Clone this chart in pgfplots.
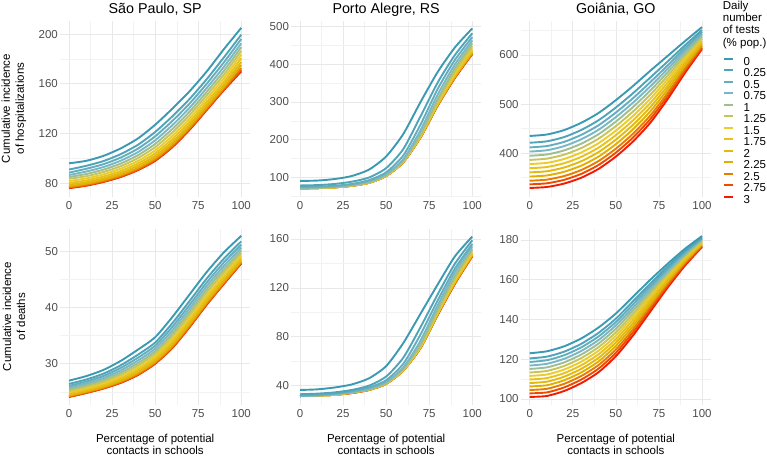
\documentclass[border=0pt]{standalone}
\usepackage{pgfplots}
\pgfplotsset{compat=1.18}
\usepackage{pgfplotstable}
\usepackage{fontspec}
\setmainfont{Liberation Sans}

% Zissou1, 13 steps
\definecolor{col0}{RGB}{59,154,178}
\definecolor{col1}{RGB}{79,164,184}
\definecolor{col2}{RGB}{100,173,191}
\definecolor{col3}{RGB}{120,183,197}
\definecolor{col4}{RGB}{158,190,145}
\definecolor{col5}{RGB}{197,197,94}
\definecolor{col6}{RGB}{235,204,42}
\definecolor{col7}{RGB}{232,194,28}
\definecolor{col8}{RGB}{228,185,14}
\definecolor{col9}{RGB}{225,175,0}
\definecolor{col10}{RGB}{231,125,0}
\definecolor{col11}{RGB}{236,76,0}
\definecolor{col12}{RGB}{242,26,0}
\definecolor{tickgray}{RGB}{77,77,77}

% hospitalizations
\pgfplotstableread[row sep=\\]{
x s0 s1 s2 s3 s4 s5 s6 s7 s8 s9 s10 s11 s12\\
0 96 91 88.5 86.6 85 83.6 81.8 80.2 78.8 77.6 76.8 76.3 76\\
10 98 94 91.6 89.4 87.4 85.6 83.8 82.2 80.8 79.6 78.8 78.3 78\\
20 102 97.8 95.3 93 90.9 89 87.1 85.4 83.9 82.7 81.8 81.3 81\\
30 108 103.4 100.6 98.1 95.8 93.7 91.7 89.8 88.2 86.8 85.9 85.3 85\\
40 116 110.9 107.8 105 102.5 100.2 97.9 95.9 94.1 92.5 91.5 90.9 90.5\\
50 127 121.2 117.7 114.5 111.6 109 106.4 104.1 102.1 100.3 99.2 98.4 98\\
60 140 133.8 130.1 126.7 123.6 120.8 118 115.5 113.3 111.5 110.2 109.5 109\\
70 154 147.8 144.1 140.7 137.6 134.8 132 129.5 127.3 125.5 124.2 123.5 123\\
80 170 163.8 160.1 156.7 153.6 150.8 148 145.5 143.3 141.5 140.2 139.5 139\\
90 188 181.4 177.4 173.8 170.5 167.5 164.6 161.9 159.6 157.6 156.3 155.5 155\\
100 205 199.5 196 192.5 189.5 186.5 183.5 180.5 177.5 175 172.5 171 170\\
}\tSPh

\pgfplotstableread[row sep=\\]{
x s0 s1 s2 s3 s4 s5 s6 s7 s8 s9 s10 s11 s12\\
0 90 78 74 72 71 71 70.5 70 70 70 70 70 70\\
10 91 79 75 73 72 72 71.5 71 71 71 71 71 71\\
20 95 82 77 75 74 74 73.5 73 73 73 73 73 73\\
30 103 88 82 80 79 78 78 77.5 77.5 77.5 77.5 77 77\\
40 120 99 92 89 87 86 86 85.5 85.5 85 85 85 85\\
50 155 124 113 108 106 105 104 104 103.5 103.5 103 103 103\\
60 215 175 158 148 145 143 142 141 141 140.5 140 140 140\\
70 300 262 240 225 215 212 210 209 208 207 207 206 206\\
80 380 352 335 320 308 302 298 296 294 293 292 291 291\\
90 445 425 412 400 390 382 376 372 369 367 366 365 364\\
100 495 482 472 463 455 448 442 437 434 431 429 428 427\\
}\tPAh

\pgfplotstableread[row sep=\\]{
x s0 s1 s2 s3 s4 s5 s6 s7 s8 s9 s10 s11 s12\\
0 435 421.2 411.7 403.2 394.7 386.2 377.8 369.3 360.8 352.3 343.8 336.4 329\\
10 438 424.1 414.5 405.9 397.3 388.8 380.2 371.7 363.1 354.5 346 338.5 331\\
20 447 432.8 423 414.3 405.6 396.9 388.1 379.4 370.7 362 353.3 345.6 338\\
30 462 447.4 437.4 428.4 419.4 410.5 401.5 392.6 383.6 374.6 365.7 357.8 350\\
40 482 467.2 456.9 447.8 438.7 429.6 420.4 411.3 402.2 393.1 384 376 368\\
50 508 493 482.7 473.5 464.3 455.1 445.9 436.7 427.5 418.3 409.1 401 393\\
60 537 522.3 512.1 503.1 494.1 485 476 466.9 457.9 448.9 439.8 431.9 424\\
70 568 554.2 544.7 536.2 527.7 519.2 510.8 502.3 493.8 485.3 476.8 469.4 462\\
80 598 586.6 578.6 571.6 564.6 557.5 550.5 543.4 536.4 529.4 522.3 516.2 510\\
90 628 619.5 613.7 608.5 603.3 598.1 592.9 587.7 582.5 577.3 572.1 567.5 563\\
100 657 651.1 647.1 643.5 639.9 636.3 632.7 629.1 625.5 621.9 618.3 615.1 612\\
}\tGOh

% deaths
\pgfplotstableread[row sep=\\]{
x s0 s1 s2 s3 s4 s5 s6 s7 s8 s9 s10 s11 s12\\
0 27 26.42 26.07 25.75 25.46 25.2 24.94 24.71 24.51 24.33 24.22 24.14 24.1\\
10 27.8 27.2 26.84 26.51 26.21 25.94 25.67 25.43 25.22 25.04 24.92 24.84 24.8\\
20 28.9 28.24 27.84 27.48 27.15 26.85 26.56 26.29 26.06 25.86 25.73 25.65 25.6\\
30 30.5 29.72 29.25 28.82 28.43 28.08 27.73 27.42 27.15 26.91 26.76 26.66 26.6\\
40 32.5 31.6 31.06 30.56 30.11 29.71 29.3 28.94 28.63 28.36 28.18 28.07 28\\
50 34.7 33.76 33.2 32.68 32.21 31.79 31.36 30.99 30.66 30.38 30.19 30.07 30\\
60 38.3 37.2 36.54 35.93 35.38 34.89 34.39 33.95 33.57 33.24 33.02 32.88 32.8\\
70 42.3 41.14 40.44 39.81 39.23 38.7 38.18 37.72 37.31 36.96 36.73 36.59 36.5\\
80 46.3 45.14 44.44 43.81 43.23 42.7 42.18 41.72 41.31 40.96 40.73 40.59 40.5\\
90 49.8 48.68 48.01 47.39 46.83 46.33 45.82 45.38 44.98 44.65 44.42 44.28 44.2\\
100 52.7 51.72 51.13 50.59 50.1 49.66 49.22 48.83 48.49 48.19 48 47.87 47.8\\
}\tSPd

\pgfplotstableread[row sep=\\]{
x s0 s1 s2 s3 s4 s5 s6 s7 s8 s9 s10 s11 s12\\
0 36.5 33 32 31.5 31.5 31.5 31.5 31.5 31.5 31.5 31.5 31.5 31.5\\
10 37 33.5 32.5 32 32 32 32 32 32 32 32 32 32\\
20 38.5 34.5 33.5 33 33 33 32.5 32.5 32.5 32.5 32.5 32.5 32.5\\
30 41 36.5 35.5 35 34.5 34.5 34.5 34.5 34.5 34.5 34 34 34\\
40 46 40 38.5 37.5 37 37 37 37 37 36.5 36.5 36.5 36.5\\
50 56 47.5 44.5 43 42.5 42 42 42 42 41.5 41.5 41.5 41.5\\
60 75 63 58 55 54 53.5 53 53 53 52.5 52.5 52.5 52.5\\
70 99 88 82 77 74 73 72 72 71.5 71.5 71 71 71\\
80 123 115 110 106 103 101 100 99.5 99 99 98.5 98.5 98\\
90 146 140 136 133 130 128 126.5 125.5 125 124.5 124 124 123.5\\
100 162 159 156 154 152 150.5 149 148 147.5 147 146.5 146 146\\
}\tPAd

\pgfplotstableread[row sep=\\]{
x s0 s1 s2 s3 s4 s5 s6 s7 s8 s9 s10 s11 s12\\
0 123 120.4 118.6 116.8 115.1 113.3 111.6 109.8 108 106.3 104.5 102.8 101\\
10 124 121.3 119.5 117.7 115.9 114.1 112.3 110.5 108.7 106.9 105.1 103.3 101.5\\
20 126.5 123.8 122 120.2 118.4 116.6 114.8 113 111.2 109.4 107.6 105.8 104\\
30 130.5 127.8 126 124.2 122.4 120.6 118.8 117 115.2 113.4 111.6 109.8 108\\
40 136 133.3 131.5 129.7 127.9 126.1 124.3 122.5 120.7 118.9 117.1 115.3 113.5\\
50 143 140.4 138.7 137 135.3 133.5 131.8 130.1 128.4 126.7 124.9 123.2 121.5\\
60 151.5 149.2 147.6 146 144.5 142.9 141.4 139.8 138.2 136.7 135.1 133.6 132\\
70 160 158.1 156.8 155.5 154.2 153 151.7 150.4 149.1 147.8 146.6 145.3 144\\
80 168 166.6 165.6 164.6 163.7 162.7 161.8 160.8 159.8 158.9 157.9 157 156\\
90 175.5 174.5 173.8 173.1 172.4 171.8 171.1 170.4 169.7 169 168.4 167.7 167\\
100 182 181.3 180.9 180.5 180 179.6 179.1 178.7 178.3 177.8 177.4 176.9 176.5\\
}\tGOd

\pgfplotsset{
  every axis title/.style={at={(0.5,1)}, anchor=base, inner sep=0pt, yshift=6.8pt,
    font=\fontsize{14.3}{16}\selectfont},
  panel/.style={
    scale only axis, width=189.5pt, height=176pt, anchor=north west,
    xmin=-5, xmax=105,
    xtick={0,25,50,75,100}, minor xtick={12.5,37.5,62.5,87.5},
    grid=both,
    major grid style={color=black!9, line width=0.6pt},
    minor grid style={color=black!5, line width=0.35pt},
    axis line style={draw=none}, tick style={draw=none},
    major tick length=0pt, minor tick length=0pt,
    tick label style={font=\fontsize{11.5}{12}\selectfont, text=tickgray},
    /pgf/number format/assume math mode=true,
    y tick label style={inner sep=0pt, xshift=-2.3pt},
    x tick label style={inner sep=0pt, yshift=-5pt, anchor=north},
    ylabel style={font=\fontsize{11.5}{14}\selectfont, align=center, at={(axis description cs:-0.245,0.5)}, anchor=center},
    xlabel style={font=\fontsize{11.5}{12.2}\selectfont, align=center, at={(axis description cs:0.5,-0.227)}, anchor=center},
  },
}

\newcommand{\series}[1]{%
  \pgfplotsinvokeforeach{12,11,...,0}{\addplot[col##1, line width=1.9pt, smooth, tension=0.4] table[x=x, y=s##1]{#1};}}

\begin{document}
\begin{tikzpicture}
\useasboundingbox (0pt,0pt) rectangle (767pt,-456pt);

\begin{axis}[panel, at={(60.4pt,-20.5pt)}, ymin=69.3, ymax=210.9,
  ytick={80,120,160,200}, minor ytick={100,140,180},
  title={São Paulo, SP}, ylabel={Cumulative incidence\\of hospitalizations}]
\series{\tSPh}
\end{axis}

\begin{axis}[panel, at={(291.4pt,-20.5pt)}, ymin=48.7, ymax=516,
  ytick={100,200,300,400,500}, minor ytick={50,150,250,350,450},
  title={Porto Alegre, RS}]
\series{\tPAh}
\end{axis}

\begin{axis}[panel, at={(521.1pt,-20.5pt)}, ymin=311.6, ymax=670.4,
  ytick={400,500,600}, minor ytick={350,450,550,650},
  title={Goiânia, GO}, reverse legend,
  legend entries={3,2.75,2.5,2.25,2,1.75,1.5,1.25,1,0.75,0.5,0.25,0},
  legend cell align=left,
  legend image code/.code={\draw[#1, line width=2pt] (0pt,3.9pt) -- (8.4pt,3.9pt);},
  legend style={at={(axis description cs:1,1)}, anchor=north west, xshift=12.5pt, yshift=-36pt,
    draw=none, fill=none, inner sep=0pt, row sep=0pt, column sep=10pt,
    font=\fontsize{11.5}{12}\selectfont,
    nodes={inner sep=0pt, text height=8.4pt, text depth=3.1pt}}]
\series{\tGOh}
\end{axis}

\begin{axis}[panel, at={(60.4pt,-228.5pt)}, ymin=22.76, ymax=54,
  ytick={30,40,50}, minor ytick={25,35,45},
  ylabel={Cumulative incidence\\of deaths},
  xlabel={Percentage of potential\\contacts in schools}]
\series{\tSPd}
\end{axis}

\begin{axis}[panel, at={(291.4pt,-228.5pt)}, ymin=24.6, ymax=168.6,
  ytick={40,80,120,160}, minor ytick={60,100,140},
  xlabel={Percentage of potential\\contacts in schools}]
\series{\tPAd}
\end{axis}

\begin{axis}[panel, at={(521.1pt,-228.5pt)}, ymin=97.2, ymax=185.8,
  ytick={100,120,140,160,180}, minor ytick={110,130,150,170},
  xlabel={Percentage of potential\\contacts in schools}]
\series{\tGOd}
\end{axis}

\node[anchor=north west, align=left, inner sep=0pt, font=\fontsize{11.5}{12.3}\selectfont]
  at (722.7pt,-0.6pt) {Daily\\number\\of tests\\(\% pop.)};
\end{tikzpicture}
\end{document}
